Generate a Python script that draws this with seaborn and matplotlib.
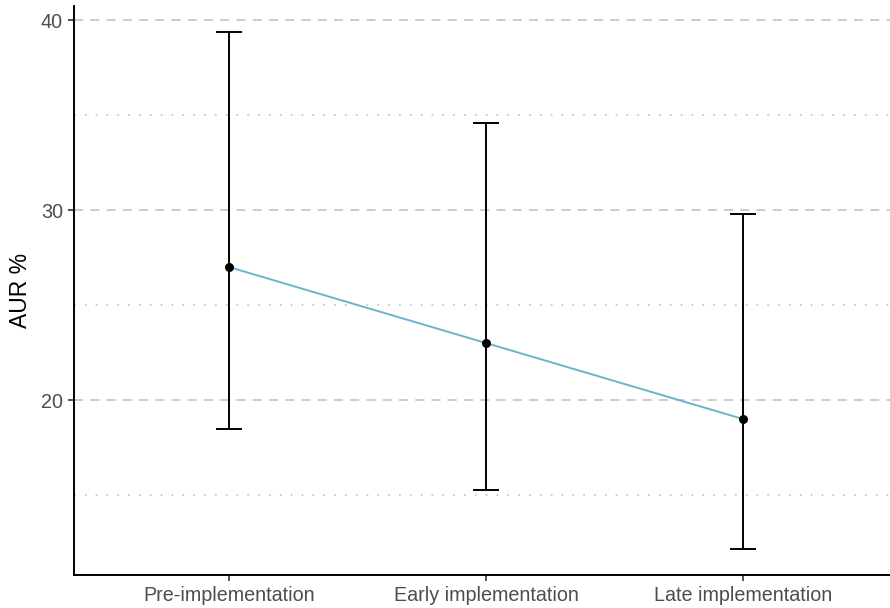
import matplotlib
matplotlib.use("Agg")
import matplotlib.pyplot as plt
import seaborn as sns
import numpy as np
import pandas as pd

categories = ["Pre-implementation", "Early implementation", "Late implementation"]
aur = [27.0, 23.0, 19.0]
lower = [18.5, 15.25, 12.15]
upper = [39.35, 34.6, 29.8]

sns.set_style("white")
plt.rcParams['font.family'] = ['Liberation Sans', 'DejaVu Sans']

df = pd.DataFrame({"pos": np.arange(len(categories)), "aur": aur,
                   "lower": lower, "upper": upper})

fig = plt.figure(figsize=(8.9, 6.08), dpi=100)
ax = fig.add_axes([74/890, 33/608, 1 - 74/890, (575-6)/608])

for y in [20, 30, 40]:
    ax.axhline(y, color="#c8c8c8", lw=1.3, ls=(0, (5, 4)), zorder=0)
for y in [15, 25, 35]:
    ax.axhline(y, color="#c8c8c8", lw=1.3, ls=(0, (1, 5)), zorder=0)

err_lo = df["aur"] - df["lower"]
err_hi = df["upper"] - df["aur"]
ax.errorbar(df["pos"], df["aur"], yerr=[err_lo, err_hi], fmt="none",
            ecolor="black", elinewidth=1.4, capsize=9.5, capthick=1.4, zorder=2)
sns.lineplot(data=df, x="pos", y="aur", color="#6cb3cc", lw=1.4, ax=ax, zorder=3)
sns.scatterplot(data=df, x="pos", y="aur", color="black", s=42, ax=ax,
                zorder=4, edgecolor="black", linewidth=0)

ax.set_xlim(-0.603, 2.572)
ax.set_ylim(10.79, 40.74)
ax.set_xticks(df["pos"])
ax.set_xticklabels(categories)
ax.set_yticks([20, 30, 40])
ax.set_xlabel("")
ax.set_ylabel("AUR %", fontsize=16.5, color="black", labelpad=6)
ax.tick_params(axis="both", labelsize=14.2, length=4, width=1.2,
               direction="out", left=True, bottom=True,
               colors="#333333", labelcolor="#4d4d4d", pad=4)
for s in ["top", "right"]:
    ax.spines[s].set_visible(False)
for s in ["left", "bottom"]:
    ax.spines[s].set_color("black")
    ax.spines[s].set_linewidth(1.4)

fig.savefig("out.png", dpi=100)
